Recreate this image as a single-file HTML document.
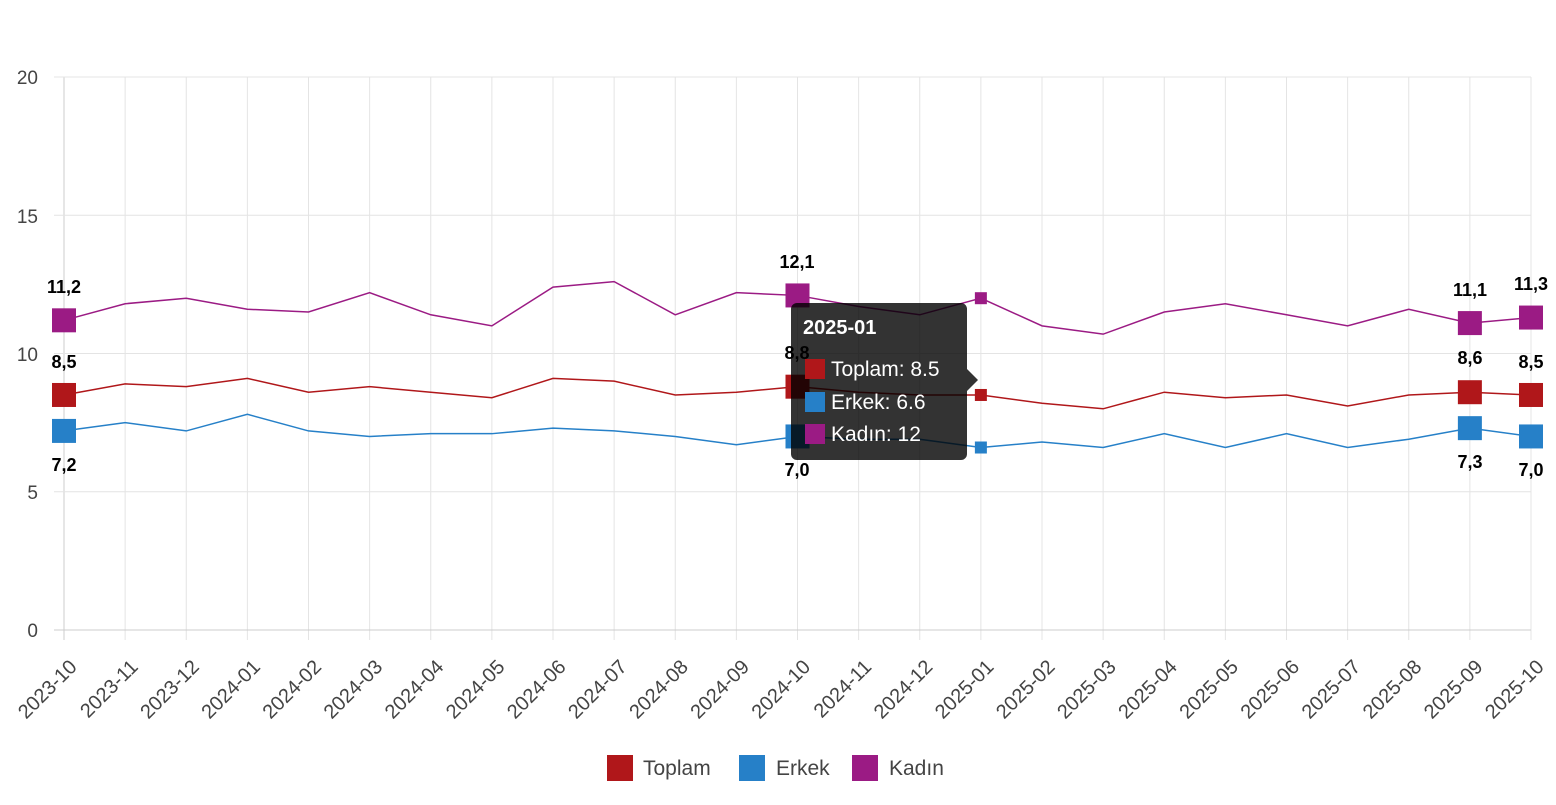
<!DOCTYPE html>
<html><head><meta charset="utf-8"><style>
body{margin:0;background:#fff;width:1556px;height:800px;overflow:hidden;font-family:"Liberation Sans",sans-serif}
</style></head><body>
<svg id="s" width="1556" height="800" xmlns="http://www.w3.org/2000/svg" font-family="Liberation Sans, sans-serif">
<g id="grid"></g>
<g font-size="19" fill="#444" text-anchor="end">
<text x="38" y="84">20</text><text x="38" y="223">15</text><text x="38" y="361">10</text><text x="38" y="499">5</text><text x="38" y="637">0</text>
</g>
<g id="xl" font-size="20" fill="#444" text-anchor="end">
<text transform="translate(78,668) rotate(-45)">2023-10</text>
<text transform="translate(139.1,668) rotate(-45)">2023-11</text>
<text transform="translate(200.3,668) rotate(-45)">2023-12</text>
<text transform="translate(261.4,668) rotate(-45)">2024-01</text>
<text transform="translate(322.5,668) rotate(-45)">2024-02</text>
<text transform="translate(383.6,668) rotate(-45)">2024-03</text>
<text transform="translate(444.8,668) rotate(-45)">2024-04</text>
<text transform="translate(505.9,668) rotate(-45)">2024-05</text>
<text transform="translate(567,668) rotate(-45)">2024-06</text>
<text transform="translate(628.1,668) rotate(-45)">2024-07</text>
<text transform="translate(689.3,668) rotate(-45)">2024-08</text>
<text transform="translate(750.4,668) rotate(-45)">2024-09</text>
<text transform="translate(811.5,668) rotate(-45)">2024-10</text>
<text transform="translate(872.6,668) rotate(-45)">2024-11</text>
<text transform="translate(933.8,668) rotate(-45)">2024-12</text>
<text transform="translate(994.9,668) rotate(-45)">2025-01</text>
<text transform="translate(1056,668) rotate(-45)">2025-02</text>
<text transform="translate(1117.1,668) rotate(-45)">2025-03</text>
<text transform="translate(1178.3,668) rotate(-45)">2025-04</text>
<text transform="translate(1239.4,668) rotate(-45)">2025-05</text>
<text transform="translate(1300.5,668) rotate(-45)">2025-06</text>
<text transform="translate(1361.6,668) rotate(-45)">2025-07</text>
<text transform="translate(1422.8,668) rotate(-45)">2025-08</text>
<text transform="translate(1483.9,668) rotate(-45)">2025-09</text>
<text transform="translate(1545,668) rotate(-45)">2025-10</text>
</g>
<g id="series"></g>
<g font-size="18" font-weight="bold" fill="#000" text-anchor="middle">
<text x="64" y="293">11,2</text><text x="64" y="368">8,5</text><text x="64" y="471">7,2</text>
<text x="797" y="268">12,1</text><text x="797" y="359">8,8</text><text x="797" y="476">7,0</text>
<text x="1470" y="296">11,1</text><text x="1470" y="364">8,6</text><text x="1470" y="468">7,3</text>
<text x="1531" y="290">11,3</text><text x="1531" y="368">8,5</text><text x="1531" y="476">7,0</text>
</g>
<g>
<path d="M797,303 H961 a6,6 0 0 1 6,6 V369 L978,380 L967,391 V454 a6,6 0 0 1 -6,6 H797 a6,6 0 0 1 -6,-6 V309 a6,6 0 0 1 6,-6 Z" fill="rgba(0,0,0,0.8)"/>
<text x="803" y="334" fill="#fff" font-size="20" font-weight="bold">2025-01</text>
<rect x="805" y="359" width="20" height="20" fill="#b0171a"/>
<rect x="805" y="392" width="20" height="20" fill="#2680c8"/>
<rect x="805" y="424" width="20" height="20" fill="#9b1b84"/>
<g fill="#fff" font-size="21"><text x="831" y="376">Toplam: 8.5</text><text x="831" y="409">Erkek: 6.6</text><text x="831" y="441">Kadın: 12</text></g>
</g>
<g font-size="21" fill="#444">
<rect x="607" y="755" width="26" height="26" fill="#b0171a"/><text x="643" y="775">Toplam</text>
<rect x="739" y="755" width="26" height="26" fill="#2680c8"/><text x="776" y="775">Erkek</text>
<rect x="852" y="755" width="26" height="26" fill="#9b1b84"/><text x="889" y="775">Kadın</text>
</g>
</svg>
<script>
const NS="http://www.w3.org/2000/svg";
const X=i=>64+61.125*i, Y=v=>630-27.65*v;
const g=document.getElementById('grid');
function el(p,t,a){const e=document.createElementNS(NS,t);for(const k in a)e.setAttribute(k,a[k]);p.appendChild(e);return e;}
for(let i=0;i<=24;i++)el(g,'line',{x1:X(i),x2:X(i),y1:77,y2:640,stroke:i==0?'#ccc':'#e4e4e4','stroke-width':1});
for(let v=0;v<=20;v+=5)el(g,'line',{x1:54,x2:1531,y1:Y(v),y2:Y(v),stroke:v==0?'#ccc':'#e4e4e4','stroke-width':1});
const data=[
['#9b1b84',[11.2,11.8,12.0,11.6,11.5,12.2,11.4,11.0,12.4,12.6,11.4,12.2,12.1,11.7,11.4,12.0,11.0,10.7,11.5,11.8,11.4,11.0,11.6,11.1,11.3]],
['#b0171a',[8.5,8.9,8.8,9.1,8.6,8.8,8.6,8.4,9.1,9.0,8.5,8.6,8.8,8.6,8.5,8.5,8.2,8.0,8.6,8.4,8.5,8.1,8.5,8.6,8.5]],
['#2680c8',[7.2,7.5,7.2,7.8,7.2,7.0,7.1,7.1,7.3,7.2,7.0,6.7,7.0,6.9,6.9,6.6,6.8,6.6,7.1,6.6,7.1,6.6,6.9,7.3,7.0]]];
const s=document.getElementById('series');
data.forEach(([c,d])=>{
 el(s,'polyline',{points:d.map((v,i)=>X(i)+','+Y(v)).join(' '),fill:'none',stroke:c,'stroke-width':1.5});
 [0,12,23,24].forEach(i=>el(s,'rect',{x:X(i)-12,y:Y(d[i])-12,width:24,height:24,fill:c}));
 el(s,'rect',{x:X(15)-6,y:Y(d[15])-6,width:12,height:12,fill:c});
});
</script>
</body></html>
